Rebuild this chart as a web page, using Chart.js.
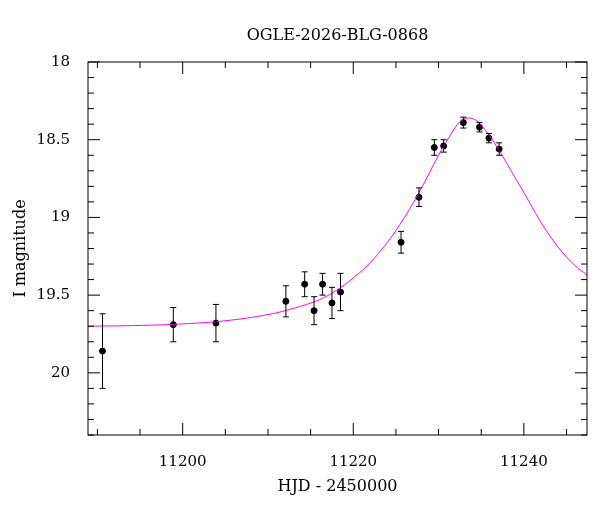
<!DOCTYPE html>
<html>
<head>
<meta charset="utf-8">
<script src="https://cdn.jsdelivr.net/npm/chart.js@4/dist/chart.umd.min.js"></script>
<style>
  html, body { margin: 0; padding: 0; background: #fff; }
  #wrap { width: 600px; height: 512px; }
</style>
</head>
<body>
<div id="wrap"><canvas id="c" width="600" height="512"></canvas></div>
<script>
// Observations (HJD - 2450000, I mag, error)
const obsHjd = [11190.6, 11198.9, 11203.9, 11212.1, 11214.3, 11215.4, 11216.4, 11217.5, 11218.5,
                11225.6, 11227.7, 11229.5, 11230.6, 11232.9, 11234.8, 11235.9, 11237.1];
const obsMag = [19.86, 19.69, 19.68, 19.54, 19.43, 19.60, 19.43, 19.55, 19.48,
                19.16, 18.87, 18.55, 18.54, 18.39, 18.42, 18.49, 18.56];
const obsErr = [0.24, 0.11, 0.12, 0.10, 0.08, 0.09, 0.07, 0.10, 0.12,
                0.07, 0.06, 0.05, 0.04, 0.035, 0.03, 0.03, 0.04];

// Model curve
const modelHjd = [11188.9, 11195, 11200, 11205, 11210, 11213, 11216, 11218, 11220, 11222, 11224,
                  11226, 11228, 11230, 11231.5, 11232.5, 11233.5, 11234.5, 11235.5, 11237, 11238.5, 11240, 11242, 11244, 11246, 11247.4];
const modelMag = [19.70, 19.695, 19.685, 19.665, 19.625, 19.585, 19.53, 19.47, 19.39, 19.29, 19.16,
                  19.00, 18.81, 18.60, 18.46, 18.385, 18.36, 18.38, 18.44, 18.56, 18.70, 18.84, 19.03, 19.19, 19.31, 19.37];

const xTicks = [11200, 11220, 11240];
const yTicks = [18, 18.5, 19, 19.5, 20];

const FONT = '"DejaVu Serif", "Liberation Serif", serif';

const decor = {
  id: 'decor',
  afterDatasetsDraw(chart) {
    const { ctx, chartArea: a, scales: { x, y } } = chart;
    ctx.save();
    // error bars
    ctx.strokeStyle = '#000';
    ctx.lineWidth = 1;
    obsHjd.forEach((t, i) => {
      const px = x.getPixelForValue(t);
      const y1 = y.getPixelForValue(obsMag[i] - obsErr[i]);
      const y2 = y.getPixelForValue(obsMag[i] + obsErr[i]);
      ctx.beginPath();
      ctx.moveTo(px, y1); ctx.lineTo(px, y2);
      ctx.moveTo(px - 3, y1); ctx.lineTo(px + 3, y1);
      ctx.moveTo(px - 3, y2); ctx.lineTo(px + 3, y2);
      ctx.stroke();
    });
    // frame
    ctx.strokeRect(a.left, a.top, a.right - a.left, a.bottom - a.top);
    // inward ticks
    ctx.beginPath();
    for (let t = 11190; t <= x.max; t += 5) {
      const px = x.getPixelForValue(t);
      if (px < a.left || px > a.right) continue;
      const len = (t % 20 === 0) ? 12 : 6;
      ctx.moveTo(px, a.bottom); ctx.lineTo(px, a.bottom - len);
      ctx.moveTo(px, a.top); ctx.lineTo(px, a.top + len);
    }
    for (let k = 180; k <= 204; k++) {
      const py = y.getPixelForValue(k / 10);
      if (py < a.top - 0.5 || py > a.bottom + 0.5) continue;
      const len = (k % 5 === 0) ? 12 : 6;
      ctx.moveTo(a.left, py); ctx.lineTo(a.left + len, py);
      ctx.moveTo(a.right, py); ctx.lineTo(a.right - len, py);
    }
    ctx.stroke();
    // titles
    ctx.fillStyle = '#000';
    ctx.textAlign = 'center';
    ctx.textBaseline = 'middle';
    ctx.font = '16px ' + FONT;
    ctx.fillText('OGLE-2026-BLG-0868', (a.left + a.right) / 2, 36);
    ctx.fillText('HJD - 2450000', (a.left + a.right) / 2, 487);
    ctx.translate(21, (a.top + a.bottom) / 2);
    ctx.rotate(-Math.PI / 2);
    ctx.fillText('I magnitude', 0, 0);
    ctx.restore();
  }
};

new Chart(document.getElementById('c'), {
  type: 'scatter',
  data: {
    datasets: [
      {
        type: 'line',
        data: modelHjd.map((t, i) => ({ x: t, y: modelMag[i] })),
        borderColor: '#ff00ff',
        borderWidth: 1,
        pointRadius: 0,
        tension: 0.4,
        fill: false
      },
      {
        data: obsHjd.map((t, i) => ({ x: t, y: obsMag[i] })),
        backgroundColor: '#000',
        borderColor: '#000',
        pointRadius: 3
      }
    ]
  },
  options: {
    responsive: false,
    animation: false,
    devicePixelRatio: 1,
    layout: { padding: { top: 62, right: 13, left: 0, bottom: 0 } },
    plugins: { legend: { display: false }, tooltip: { enabled: false } },
    scales: {
      x: {
        type: 'linear', min: 11188.9, max: 11247.4,
        grid: { display: false }, border: { display: false },
        afterBuildTicks(s) { s.ticks = xTicks.map(v => ({ value: v })); },
        afterFit(s) { s.height = 77; },
        ticks: { color: '#000', font: { family: FONT, size: 15 }, padding: 10, maxRotation: 0,
                 callback: v => String(v) }
      },
      y: {
        type: 'linear', min: 18, max: 20.4, reverse: true,
        grid: { display: false }, border: { display: false },
        afterBuildTicks(s) { s.ticks = yTicks.map(v => ({ value: v })); },
        afterFit(s) { s.width = 88; },
        ticks: { color: '#000', font: { family: FONT, size: 15 }, padding: 10,
                 callback: v => String(v) }
      }
    }
  },
  plugins: [decor]
});
</script>
</body>
</html>
